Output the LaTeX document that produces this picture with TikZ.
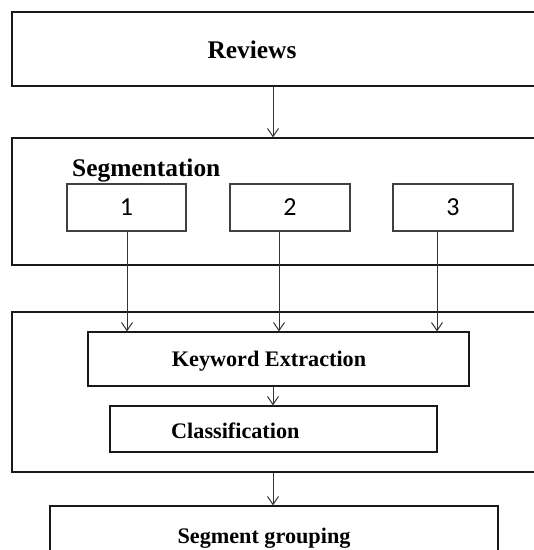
\documentclass[tikz,border=0pt]{standalone}
\usepackage{fontspec}
\setmainfont{Liberation Serif}
\newfontfamily\numfont{Carlito}
\usetikzlibrary{arrows.meta}

\tikzset{
  frame/.style={draw=black!90,line width=1.3pt,inner sep=0pt},
  subbox/.style={draw=black!75,line width=1.2pt,inner sep=0pt,font=\numfont\fontsize{26}{30}\selectfont},
  biglbl/.style={font=\bfseries\fontsize{25.4}{30}\selectfont,inner sep=0pt},
  lbl/.style={font=\bfseries\fontsize{22.2}{26}\selectfont,inner sep=0pt},
  conn/.style={->,draw=black!80,line width=1pt}
}

\begin{document}
\begin{tikzpicture}[x=1pt,y=-1pt,>={Straight Barb[length=8pt,width=11pt]}]
    \useasboundingbox (0,0) rectangle (534,550);
    \node[frame,minimum width=548pt,minimum height=74pt] (rev) at (286,49) {};
    \node[biglbl,anchor=base] (revtxt) at (252,58) {Reviews};
    \node[frame,minimum width=548pt,minimum height=127pt] (seg) at (286,201.5) {};
    \node[biglbl,anchor=base west] (segtxt) at (72,176) {Segmentation};
    \node[subbox,minimum width=119pt,minimum height=47pt] (b1) at (126.5,207.5) {1};
    \node[subbox,minimum width=120pt,minimum height=47pt] (b2) at (290,207.5) {2};
    \node[subbox,minimum width=120pt,minimum height=47pt] (b3) at (453,207.5) {3};
    \node[frame,minimum width=548pt,minimum height=160pt] (proc) at (286,392) {};
    \node[frame,minimum width=381pt,minimum height=54pt] (kw) at (278.5,359) {};
    \node[lbl,anchor=base] (kwtxt) at (269,366) {Keyword Extraction};
    \node[frame,minimum width=327pt,minimum height=46pt] (cls) at (273.5,429) {};
    \node[lbl,anchor=base west] (clstxt) at (171,438) {Classification};
    \node[frame,minimum width=448pt,minimum height=74pt] (grp) at (274,543) {};
    \node[lbl,anchor=base] (grptxt) at (264,543) {Segment grouping};
    \coordinate (mid) at (273,0);
    \coordinate (k1) at (127,0);
    \coordinate (k2) at (279,0);
    \coordinate (k3) at (437,0);
    \draw[conn] (rev.south -| mid) -- (seg.north -| mid);
    \draw[conn] (b1.south -| k1) -- (kw.north -| k1);
    \draw[conn] (b2.south -| k2) -- (kw.north -| k2);
    \draw[conn] (b3.south -| k3) -- (kw.north -| k3);
    \draw[conn] (kw.south -| mid) -- (cls.north -| mid);
    \draw[conn] (proc.south -| mid) -- (grp.north -| mid);
\end{tikzpicture}
\end{document}
